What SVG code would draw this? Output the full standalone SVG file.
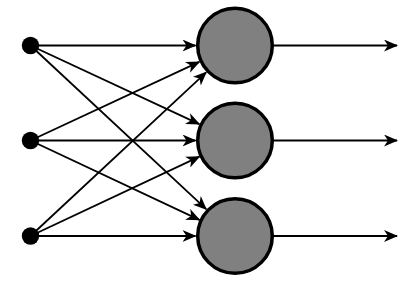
<svg xmlns="http://www.w3.org/2000/svg" width="412" height="283" viewBox="0 0 412 283">
<style>
.c{stroke:#000;stroke-width:1.8;fill:none;marker-end:url(#ah)}
.n{fill:#808080;stroke:#000;stroke-width:3.5}
.d{fill:#000}
</style>
<defs>
<marker id="ah" viewBox="0 0 14 12" refX="13" refY="6" markerWidth="14" markerHeight="12" markerUnits="userSpaceOnUse" orient="auto">
<path d="M0,0 L14,6 L0,12 L4,6 z" fill="#000"/>
</marker>
</defs>
<rect width="412" height="283" fill="#fff"/>
<g id="connectors">
<line class="c" x1="30.5" y1="45.5" x2="195.5" y2="45.5"/>
<line class="c" x1="30.5" y1="45.5" x2="199.3" y2="124.1"/>
<line class="c" x1="30.5" y1="45.5" x2="206.2" y2="209.2"/>
<line class="c" x1="30.5" y1="140.5" x2="199.3" y2="61.9"/>
<line class="c" x1="30.5" y1="140.5" x2="199.4" y2="219.9"/>
<line class="c" x1="30.5" y1="140.5" x2="195.5" y2="140.5"/>
<line class="c" x1="30.5" y1="236" x2="206.2" y2="72.3"/>
<line class="c" x1="30.5" y1="236" x2="199.4" y2="156.6"/>
<line class="c" x1="30.5" y1="236" x2="195.5" y2="236"/>
<line class="c" x1="272" y1="45.5" x2="397" y2="45.5"/>
<line class="c" x1="272" y1="140.5" x2="397" y2="140.5"/>
<line class="c" x1="272" y1="236" x2="397" y2="236"/>
</g>
<g id="in1"><circle class="d" cx="30.5" cy="45.5" r="8.7"/></g>
<g id="in2"><circle class="d" cx="30.5" cy="140.5" r="8.7"/></g>
<g id="in3"><circle class="d" cx="30.5" cy="236" r="8.7"/></g>
<g id="n1"><circle class="n" cx="235" cy="45.5" r="37.3"/></g>
<g id="n2"><circle class="n" cx="235" cy="140.5" r="37.3"/></g>
<g id="n3"><circle class="n" cx="235" cy="236" r="37.3"/></g>
</svg>
